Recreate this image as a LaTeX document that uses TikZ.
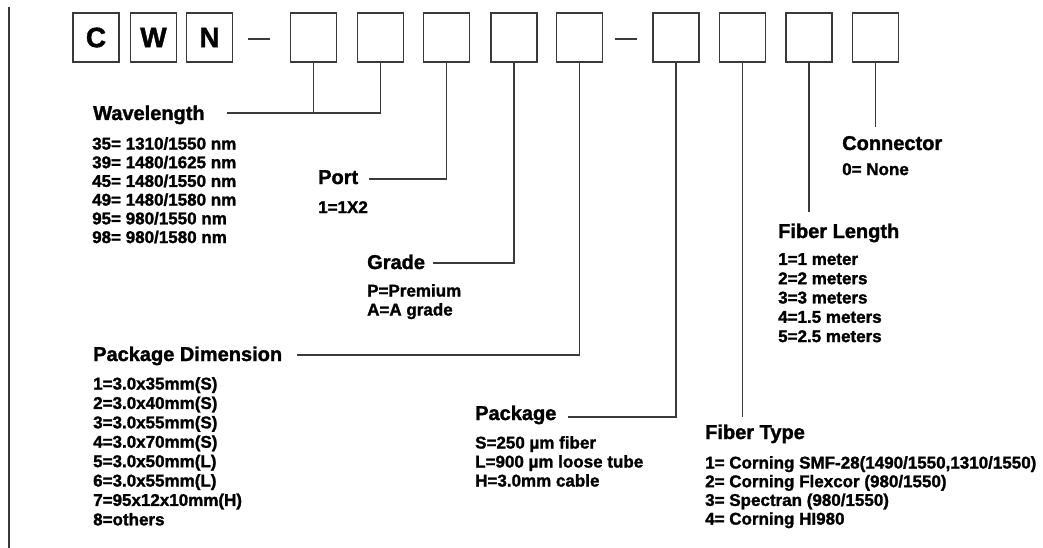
\documentclass[tikz,border=0pt]{standalone}
\usepackage{fontspec}
\setmainfont{Liberation Sans}[BoldFeatures={FakeBold=1.5}]
\definecolor{linec}{HTML}{3A3A3A}
\begin{document}
\begin{tikzpicture}[x=1pt,y=-1pt,
  cbox/.style={draw=linec, line width=1.6pt, minimum width=46pt, minimum height=49pt, inner sep=0pt, font=\fontsize{28}{30}\selectfont\bfseries},
  conn/.style={draw=linec, line width=1.6pt},
  head/.style={anchor=base west, inner sep=0pt, font=\fontsize{20}{22}\selectfont\bfseries},
  list/.style={anchor=north west, inner sep=0pt, align=left, font=\fontsize{17}{19}\selectfont\bfseries}]
\useasboundingbox (0,0) rectangle (1043,548);
% left rule
\draw[conn] (9,7) -- (9,548);
% letter boxes
\node[cbox] (bc) at (96,37.5) {C};
\node[cbox] (bw) at (153.5,37.5) {W};
\node[cbox] (bn) at (209.5,37.5) {N};
\draw[conn] (248,39) -- (270,39);
\node[cbox] (b1) at (313.5,37.5) {};
\node[cbox] (b2) at (380.5,37.5) {};
\node[cbox] (b3) at (446.5,37.5) {};
\node[cbox] (b4) at (514,37.5) {};
\node[cbox] (b5) at (579.5,37.5) {};
\draw[conn] (615,39) -- (637,39);
\node[cbox] (b6) at (676,37.5) {};
\node[cbox] (b7) at (742.5,37.5) {};
\node[cbox] (b8) at (809,37.5) {};
\node[cbox] (b9) at (875.5,37.5) {};
% line ends
\coordinate (wl) at (227,113);
\coordinate (pt) at (369,179);
\coordinate (gr) at (433,263);
\coordinate (pd) at (297,355);
\coordinate (pk) at (568,417);
\coordinate (ft) at (742.5,417);
\coordinate (fl) at (809,212);
\coordinate (cn) at (875.5,127);
% connectors
\draw[conn] (b1.south) |- (wl);
\draw[conn] (b2.south) |- (wl);
\draw[conn] (b3.south) |- (pt);
\draw[conn] (b4.south) |- (gr);
\draw[conn] (b5.south) |- (pd);
\draw[conn] (b6.south) |- (pk);
\draw[conn] (b7.south) -- (ft);
\draw[conn] (b8.south) -- (fl);
\draw[conn] (b9.south) -- (cn);
% headings
\node[head] (hwl) at (93,120) {Wavelength};
\node[head] (hpt) at (318,184) {Port};
\node[head] (hgr) at (367,269) {Grade};
\node[head] (hpd) at (93,361) {Package Dimension};
\node[head] (hpk) at (475,420) {Package};
\node[head] (hft) at (705,439) {Fiber Type};
\node[head] (hfl) at (778,238) {Fiber Length};
\node[head] (hcn) at (842,150) {Connector};
% lists
\node[list, font=\fontsize{17}{18.7}\selectfont\bfseries] (lwl) at (92,137) {35= 1310/1550 nm\\39= 1480/1625 nm\\45= 1480/1550 nm\\49= 1480/1580 nm\\95= 980/1550 nm\\98= 980/1580 nm};
\node[list] (lpt) at (318,201) {1=1X2};
\node[list] (lgr) at (367,284) {P=Premium\\A=A grade};
\node[list, font=\fontsize{17}{19.4}\selectfont\bfseries] (lpd) at (93,377) {1=3.0x35mm(S)\\2=3.0x40mm(S)\\3=3.0x55mm(S)\\4=3.0x70mm(S)\\5=3.0x50mm(L)\\6=3.0x55mm(L)\\7=95x12x10mm(H)\\8=others};
\node[list] (lpk) at (475,436) {S=250 µm fiber\\L=900 µm loose tube\\H=3.0mm cable};
\node[list, font=\fontsize{17}{18.7}\selectfont\bfseries] (lft) at (705,456) {1= Corning SMF-28(1490/1550,1310/1550)\\2= Corning Flexcor (980/1550)\\3= Spectran (980/1550)\\4= Corning HI980};
\node[list, font=\fontsize{17}{19.3}\selectfont\bfseries] (lfl) at (778,253) {1=1 meter\\2=2 meters\\3=3 meters\\4=1.5 meters\\5=2.5 meters};
\node[list] (lcn) at (842,163) {0= None};
\end{tikzpicture}
\end{document}
